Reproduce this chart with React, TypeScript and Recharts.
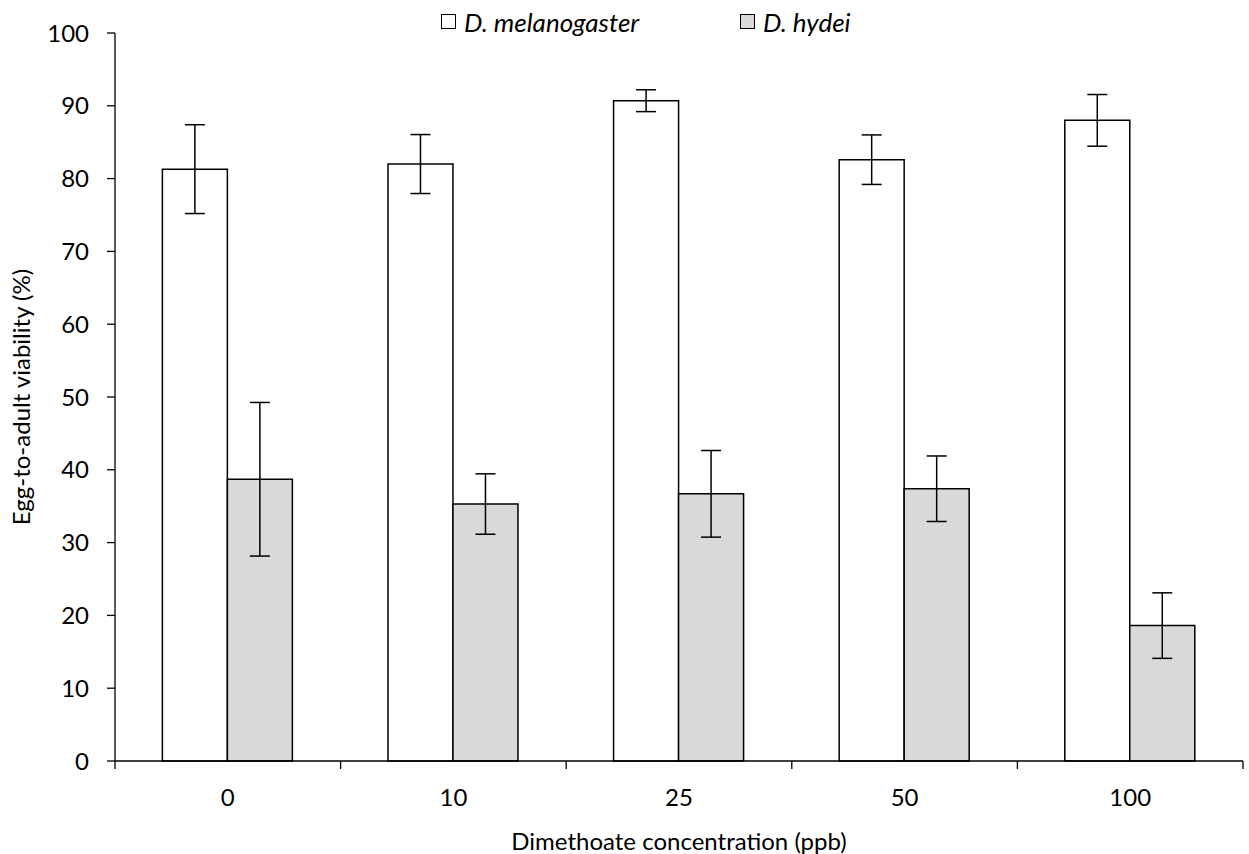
import React from "react";
import { BarChart, Bar, XAxis, YAxis, ErrorBar, Legend } from "recharts";

const concentrations = ["0", "10", "25", "50", "100"];
const melanogaster = [81.3, 82.0, 90.7, 82.6, 88.0];
const melanogasterErr = [6.1, 4.05, 1.5, 3.4, 3.55];
const hydei = [38.7, 35.3, 36.7, 37.4, 18.6];
const hydeiErr = [10.55, 4.15, 5.95, 4.5, 4.5];
const yTicks = [0, 10, 20, 30, 40, 50, 60, 70, 80, 90, 100];
const seriesOrder = ["mel", "hyd"];

const data = concentrations.map((c, i) => ({
  conc: c,
  mel: melanogaster[i],
  melErr: melanogasterErr[i],
  hyd: hydei[i],
  hydErr: hydeiErr[i],
}));

const font = "Lato, 'Open Sans', sans-serif";

const LegendContent = (props: any) => {
  const items = [...(props.payload || [])].sort(
    (a: any, b: any) => seriesOrder.indexOf(a.dataKey) - seriesOrder.indexOf(b.dataKey)
  );
  return (
    <div style={{ height: 33, display: "flex", alignItems: "center", paddingLeft: 441, paddingTop: 10, boxSizing: "border-box", fontFamily: font }}>
      {items.map((it: any, i: number) => (
        <div key={i} style={{ display: "flex", alignItems: "center", width: i === 0 ? 299 : "auto" }}>
          <span style={{ display: "inline-block", width: 13, height: 13, border: "1.3px solid #000", background: it.payload?.fill ?? it.color, marginRight: 8 }} />
          <span style={{ fontStyle: "italic", fontSize: 26, color: "#000" }}>{it.value}</span>
        </div>
      ))}
    </div>
  );
};

// category label plus tick marks at the band edges (Excel style)
const ConcTick = (props: any) => {
  const { x, y, payload, index, visibleTicksCount } = props;
  const half = payload.offset || 0;
  const axisY = y - 28;
  return (
    <g>
      <line x1={x - half} x2={x - half} y1={axisY} y2={axisY + 8} stroke="#000" strokeWidth={1.3} />
      {index === visibleTicksCount - 1 && (
        <line x1={x + half} x2={x + half} y1={axisY} y2={axisY + 8} stroke="#000" strokeWidth={1.3} />
      )}
      <text x={x} y={y} dy="0.71em" textAnchor="middle" fontSize={24} fill="#000" fontFamily={font}>
        {payload.value}
      </text>
    </g>
  );
};

export default function App() {
  return (
    <div style={{ position: "absolute", left: 0, top: 0, background: "#fff" }}>
      <BarChart
        width={1249}
        height={854}
        data={data}
        margin={{ top: 0, right: 6, left: 0, bottom: 0 }}
        barCategoryGap="21%"
        barGap={0}
        style={{ fontFamily: font }}
      >
        <Legend verticalAlign="top" align="left" content={<LegendContent />} />
        <XAxis
          dataKey="conc"
          tickLine={false}
          axisLine={{ stroke: "#000", strokeWidth: 1.3 }}
          tick={<ConcTick />}
          tickSize={8}
          tickMargin={20}
          height={93}
          interval={0}
          label={{ value: "Dimethoate concentration (ppb)", position: "insideBottom", offset: 4, fill: "#000", fontSize: 24 }}
        />
        <YAxis
          domain={[0, 100]}
          ticks={yTicks}
          width={115}
          tickSize={8}
          tickMargin={18}
          axisLine={{ stroke: "#000", strokeWidth: 1.3 }}
          tickLine={{ stroke: "#000", strokeWidth: 1.3 }}
          tick={{ fill: "#000", fontSize: 24 }}
          label={{ value: "Egg-to-adult viability (%)", angle: -90, position: "center", dx: -36, fill: "#000", fontSize: 24 }}
        />
        <Bar dataKey="mel" name="D. melanogaster" fill="#ffffff" stroke="#000" strokeWidth={1.5} isAnimationActive={false}>
          <ErrorBar dataKey="melErr" width={10} stroke="#000" strokeWidth={1.5} />
        </Bar>
        <Bar dataKey="hyd" name="D. hydei" fill="#d9d9d9" stroke="#000" strokeWidth={1.5} isAnimationActive={false}>
          <ErrorBar dataKey="hydErr" width={10} stroke="#000" strokeWidth={1.5} />
        </Bar>
      </BarChart>
    </div>
  );
}
